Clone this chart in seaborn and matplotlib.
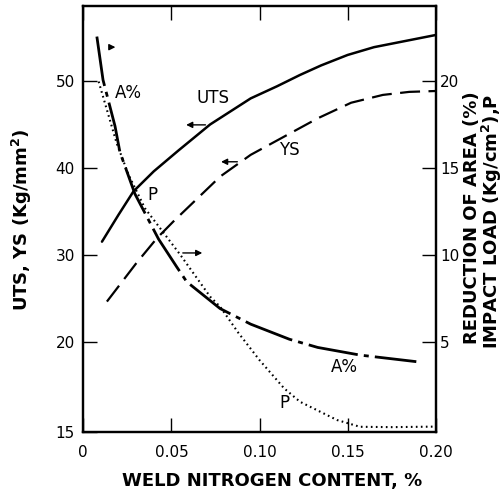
import matplotlib
matplotlib.use("Agg")
import seaborn as sns
import matplotlib.pyplot as plt

# weld nitrogen content (%) and the values
uts_n = [0.0106, 0.020, 0.0285, 0.040, 0.054, 0.072, 0.095, 0.110, 0.123, 0.135, 0.150, 0.165, 0.180, 0.200]
uts = [31.5, 34.6, 37.3, 39.6, 42.0, 45.0, 48.0, 49.4, 50.7, 51.8, 53.0, 53.9, 54.5, 55.3]

ys_n = [0.0134, 0.030, 0.0418, 0.051, 0.0777, 0.095, 0.114, 0.133, 0.152, 0.170, 0.185, 0.200]
ys = [24.6, 29.0, 31.9, 33.8, 39.0, 41.5, 43.6, 45.7, 47.5, 48.4, 48.75, 48.85]

ra_n = [0.0077, 0.0112, 0.018, 0.0208, 0.0293, 0.0427, 0.053, 0.0587, 0.0776, 0.095, 0.117, 0.133, 0.157, 0.189]
ra = [22.56, 20.06, 17.4, 15.9, 13.5, 10.9, 9.3, 8.44, 6.9, 6.0, 5.13, 4.66, 4.22, 3.84]

p_n = [0.0087, 0.019, 0.0257, 0.035, 0.055, 0.072, 0.0777, 0.088, 0.100, 0.114, 0.123, 0.144, 0.157, 0.175, 0.200]
p = [19.97, 16.4, 14.6, 12.67, 10.0, 7.58, 7.0, 5.5, 3.93, 2.3, 1.53, 0.48, 0.09, 0.07, 0.1]

x_ticks = [0, 0.05, 0.10, 0.15, 0.20]
x_labels = ["0", "0.05", "0.10", "0.15", "0.20"]
right_ticks = [5, 10, 15, 20]
right_lim = (-0.21, 24.32)
# left scale is tied to right scale: left = 10 + 2 * right; bottom tick printed as "15"
left_lim = (10 + 2 * right_lim[0], 10 + 2 * right_lim[1])
left_ticks = [left_lim[0], 20, 30, 40, 50]
left_labels = ["15", "20", "30", "40", "50"]

sns.set_style("ticks")
plt.rcParams["font.family"] = ["DejaVu Sans"]
plt.rcParams["mathtext.default"] = "regular"
for key in ["text.color", "axes.labelcolor", "xtick.color", "ytick.color", "axes.edgecolor"]:
    plt.rcParams[key] = "black"

fig = plt.figure(figsize=(5.04, 4.94), dpi=100)
ax = fig.add_axes([83.3 / 504, 62 / 494, 352.4 / 504, 426 / 494])
ax2 = ax.twinx()

sns.lineplot(x=uts_n, y=uts, ax=ax, color="black", lw=1.8, sort=False)
sns.lineplot(x=ys_n, y=ys, ax=ax, color="black", lw=1.6, sort=False,
             linestyle=(0, (9, 3.8)))
sns.lineplot(x=ra_n, y=ra, ax=ax2, color="black", lw=2.0, sort=False,
             linestyle=(0, (18, 2.2, 1.8, 2.2)))
sns.lineplot(x=p_n, y=p, ax=ax2, color="black", lw=1.5, sort=False,
             linestyle=(0, (0.8, 1.6)))

ax.set_xlim(0, 0.2)
ax.set_ylim(*left_lim)
ax2.set_ylim(*right_lim)

tick_font = dict(family="DejaVu Sans", size=11)
ax.set_xticks(x_ticks, labels=x_labels, **tick_font)
ax.set_yticks(left_ticks, labels=left_labels, **tick_font)
ax2.set_yticks(right_ticks, labels=[str(t) for t in right_ticks], **tick_font)
ax.tick_params(axis="x", direction="in", length=10, width=1, top=True, pad=9)
ax.tick_params(axis="y", direction="in", length=10, width=1, pad=6)
ax2.tick_params(axis="y", direction="in", length=10, width=1, pad=3)

for a in (ax, ax2):
    for s in a.spines.values():
        s.set_linewidth(1.6)
        s.set_color("black")

# axis titles, placed by hand like the original figure
lab = dict(family="DejaVu Sans", weight="bold", size=13, ha="center", va="center")
fig.text(272 / 504, 1 - 481 / 494, "WELD NITROGEN CONTENT, %", **lab)
fig.text(22 / 504, 1 - 220 / 494, "UTS, YS (Kg/mm$^\\mathbf{2}$)", rotation=90, **lab)
fig.text(472 / 504, 1 - 218 / 494, "REDUCTION OF AREA (%)", rotation=90, **lab)
fig.text(492 / 504, 1 - 221 / 494, "IMPACT LOAD (Kg/cm$^\\mathbf{2}$),P", rotation=90, **lab)

# curve labels
txt = dict(family="DejaVu Sans", size=12, ha="center", va="center")
ax.text(0.0254, 48.6, "A%", **txt)
ax.text(0.0736, 48.06, "UTS", **txt)
ax.text(0.1168, 42.07, "YS", **txt)
ax.text(0.039, 36.9, "P", **txt)
ax.text(0.148, 17.07, "A%", **txt)
ax.text(0.1144, 12.92, "P", **txt)

# arrows showing which axis each curve belongs to
arr = dict(arrowstyle="-|>", color="black", lw=1.0, mutation_scale=9)
ax.annotate("", xy=(0.0198, 53.9), xytext=(0.0141, 53.9), arrowprops=arr)
ax.annotate("", xy=(0.0568, 44.95), xytext=(0.0709, 44.95), arrowprops=arr)
ax.annotate("", xy=(0.0766, 40.7), xytext=(0.089, 40.7), arrowprops=arr)
ax.annotate("", xy=(0.0691, 30.2), xytext=(0.0549, 30.2), arrowprops=arr)

fig.savefig("out.png", dpi=100)
